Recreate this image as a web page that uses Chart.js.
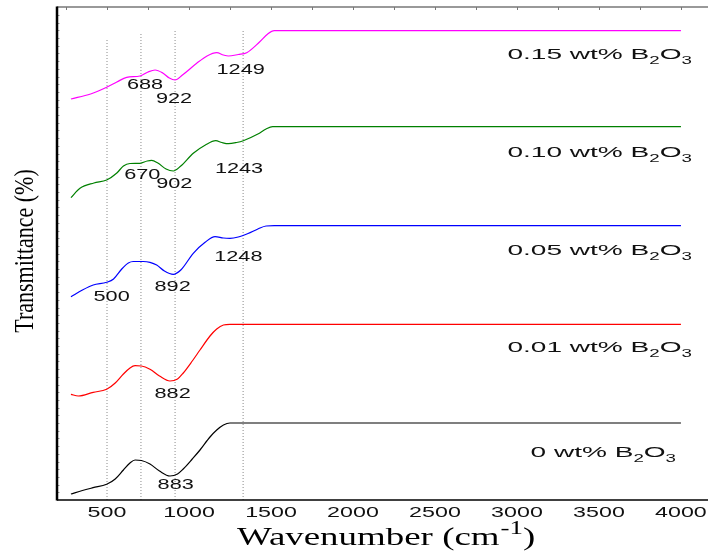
<!DOCTYPE html>
<html>
<head>
<meta charset="utf-8">
<script src="https://cdn.jsdelivr.net/npm/chart.js@4.4.1/dist/chart.umd.min.js"></script>
<style>
  html, body { margin: 0; padding: 0; background: #fff; }
</style>
</head>
<body>
<canvas id="myChart" width="708" height="552"></canvas>
<script>
// 스펙트럼 데이터 (wavenumber, 투과율 - 임의 단위, 세로로 쌓아서 표시)
var wave0 = [280, 350, 415, 498, 550, 600, 640, 671, 710, 762, 820, 884, 930, 965, 1020, 1067, 1128, 1169, 1210, 1250, 4000];
var trans0 = [6, 9.5, 12.3, 15.7, 21, 30, 37, 40, 39.5, 36, 29, 24, 26, 31, 41, 50, 63, 70, 75, 77, 77];

var wave001 = [280, 325, 416, 498, 550, 600, 640, 671, 710, 762, 820, 884, 930, 965, 1020, 1067, 1128, 1169, 1210, 1250, 4000];
var trans001 = [105.7, 104, 107.7, 110.7, 117, 126, 132, 134.3, 134, 130.7, 124, 119, 121, 127, 139, 150, 164, 171, 175, 175.7, 175.7];

var wave005 = [280, 350, 416, 498, 540, 590, 630, 660, 720, 762, 803, 850, 904, 950, 1026, 1100, 1159, 1210, 1250, 1300, 1360, 1420, 1470, 1520, 4000];
var trans005 = [203.3, 210, 215, 217.7, 221, 231, 237, 238.5, 238.5, 237.7, 235, 229, 225.7, 230, 246.7, 258, 263.3, 262, 261.7, 263, 266.5, 271, 274, 274.3, 274.3];

var wave010 = [280, 335, 420, 498, 560, 600, 640, 701, 745, 772, 810, 860, 904, 950, 1026, 1100, 1163, 1200, 1240, 1290, 1331, 1420, 1470, 1510, 4000];
var trans010 = [302.3, 311.7, 317, 320, 327, 334, 336.5, 336.7, 339, 339.7, 337, 331, 329, 334, 346.7, 355, 359.3, 357.5, 356.3, 357.5, 359.3, 366, 371, 373.3, 373.3];

var wave015 = [280, 400, 498, 560, 620, 701, 750, 793, 840, 880, 915, 960, 1047, 1110, 1169, 1210, 1240, 1300, 1352, 1430, 1480, 1520, 4000];
var trans015 = [401, 406, 412.7, 418, 422.7, 424, 428, 430, 427, 422, 420, 425, 436.7, 444, 447.3, 445, 444, 445.5, 447.3, 458, 466, 469.3, 469.3];

var seriesNames = ["0 wt%", "0.01 wt%", "0.05 wt%", "0.10 wt%", "0.15 wt%"];
var seriesColors = ["#000000", "#ff0000", "#0000ff", "#008000", "#ff00ff"];

// 점선 기준선
var refWave = [500, 707, 915, 1330];
var refTop = [462, 467, 469, 469];

// x축 눈금
var xTicks = [500, 1000, 1500, 2000, 2500, 3000, 3500, 4000];
var topTicks = [250, 500, 750, 1000, 1250, 1500, 1750, 2000, 2250, 2500, 2750, 3000, 3250, 3500, 3750, 4000];

// 피크 라벨 (텍스트, wavenumber, 세로 위치)
var peakText = ["688", "922", "1249", "670", "902", "1243", "1248", "500", "892", "882", "883"];
var peakWave = [732, 909, 1315, 715, 910, 1305, 1301, 528, 900, 900, 919];
var peakLevel = [415, 401, 430, 325, 316, 331, 242.7, 202.7, 212.7, 105.7, 15];

// 시리즈 라벨 위치 (오른쪽 끝 wavenumber, 기준선 높이)
var labelWave = [3970, 4067, 4067, 4067, 4067];
var labelLevel = [43, 148, 245, 343, 441];

function toPoints(xs, ys) {
  return xs.map(function (x, i) { return { x: x, y: ys[i] }; });
}

var waves = [wave0, wave001, wave005, wave010, wave015];
var trans = [trans0, trans001, trans005, trans010, trans015];

var datasets = [];
refWave.forEach(function (w, i) {
  datasets.push({
    data: [{ x: w, y: 0 }, { x: w, y: refTop[i] }],
    borderColor: "#8a8a8a",
    borderWidth: 1,
    borderDash: [1, 2],
    pointRadius: 0,
    order: 10
  });
});
waves.forEach(function (w, i) {
  datasets.push({
    label: seriesNames[i],
    data: toPoints(w, trans[i]),
    borderColor: seriesColors[i],
    borderWidth: 1.2,
    pointRadius: 0,
    cubicInterpolationMode: "monotone",
    order: 1
  });
});

// 가로로 늘어난 글자 그리기
function drawWide(c, text, x, y, font, sx, align) {
  c.save();
  c.font = font;
  var w = c.measureText(text).width * sx;
  var left = align === "center" ? x - w / 2 : (align === "right" ? x - w : x);
  c.translate(left, y);
  c.scale(sx, 1);
  c.textAlign = "left";
  c.fillText(text, 0, 0);
  c.restore();
  return w;
}

var decorations = {
  id: "decorations",
  afterDraw: function (chart) {
    var c = chart.ctx;
    var a = chart.chartArea;
    var xs = chart.scales.x;
    var ys = chart.scales.y;

    c.save();
    // 위쪽 테두리 + 안쪽 눈금
    c.strokeStyle = "#777";
    c.lineWidth = 1.5;
    c.beginPath();
    c.moveTo(a.left, a.top);
    c.lineTo(a.right, a.top);
    c.stroke();
    c.lineWidth = 1;
    topTicks.forEach(function (v) {
      var px = Math.round(xs.getPixelForValue(v)) + 0.5;
      c.beginPath();
      c.moveTo(px, a.top);
      c.lineTo(px, a.top + 3);
      c.stroke();
    });
    // 왼쪽 축 작은 눈금
    c.strokeStyle = "#999";
    for (var v = 7.7; v < 493; v += 7.7) {
      var py = Math.round(ys.getPixelForValue(v)) + 0.5;
      c.beginPath();
      c.moveTo(a.left, py);
      c.lineTo(a.left + 2.5, py);
      c.stroke();
    }
    // 아래 축
    c.strokeStyle = "#000";
    c.lineWidth = 1.5;
    c.beginPath();
    c.moveTo(a.left, a.bottom);
    c.lineTo(a.right, a.bottom);
    c.stroke();
    // 왼쪽 축
    c.lineWidth = 2.5;
    c.beginPath();
    c.moveTo(a.left, a.top - 0.5);
    c.lineTo(a.left, a.bottom + 0.5);
    c.stroke();

    // x 눈금 라벨
    c.fillStyle = "#111";
    c.textBaseline = "alphabetic";
    xTicks.forEach(function (v) {
      drawWide(c, String(v), xs.getPixelForValue(v), a.bottom + 17, "15px 'Liberation Sans', Arial, sans-serif", 1.55, "center");
    });

    // 피크 라벨
    c.fillStyle = "#111";
    c.textBaseline = "middle";
    peakText.forEach(function (t, i) {
      drawWide(c, t, xs.getPixelForValue(peakWave[i]), ys.getPixelForValue(peakLevel[i]), "14px 'Liberation Sans', Arial, sans-serif", 1.55, "center");
    });

    // 시리즈 라벨 (B2O3 아래첨자)
    c.textBaseline = "alphabetic";
    seriesNames.forEach(function (name, i) {
      var right = xs.getPixelForValue(labelWave[i]);
      var base = ys.getPixelForValue(labelLevel[i]);
      var big = "15px 'Liberation Sans', Arial, sans-serif";
      var small = "10px 'Liberation Sans', Arial, sans-serif";
      var sx = 1.87;
      var parts = [[name + " B", big, 0], ["2", small, 5], ["O", big, 0], ["3", small, 5]];
      var total = 0;
      parts.forEach(function (p) { c.font = p[1]; total += c.measureText(p[0]).width * sx; });
      var x = right - total;
      parts.forEach(function (p) {
        x += drawWide(c, p[0], x, base + p[2], p[1], sx, "left");
      });
    });

    // y축 제목
    c.save();
    c.translate(33, 251);
    c.rotate(-Math.PI / 2);
    c.scale(1, 1.2);
    c.font = "22px 'Liberation Serif', 'Times New Roman', serif";
    c.textAlign = "center";
    c.textBaseline = "alphabetic";
    c.fillStyle = "#000";
    c.fillText("Transmittance (%)", 0, 0);
    c.restore();

    // x축 제목
    c.fillStyle = "#000";
    var tx = 237, ty = 545;
    tx += drawWide(c, "Wavenumber (cm", tx, ty, "26px 'Liberation Serif', 'Times New Roman', serif", 1.42, "left");
    tx += drawWide(c, "-1", tx + 1, ty - 11, "19px 'Liberation Serif', 'Times New Roman', serif", 1.42, "left") + 1;
    drawWide(c, ")", tx, ty, "26px 'Liberation Serif', 'Times New Roman', serif", 1.42, "left");
    c.restore();
  }
};

var ctx = document.getElementById("myChart");
var chart = new Chart(ctx, {
  type: "line",
  data: { datasets: datasets },
  options: {
    responsive: false,
    animation: false,
    devicePixelRatio: 1,
    layout: { padding: { top: 7, right: 0, left: 0, bottom: 0 } },
    plugins: { legend: { display: false }, tooltip: { enabled: false } },
    scales: {
      x: {
        type: "linear",
        min: 195,
        max: 4165,
        grid: { display: false, drawTicks: false },
        border: { display: false },
        ticks: { display: false },
        afterFit: function (s) { s.height = 52; }
      },
      y: {
        min: 0,
        max: 493,
        grid: { display: false, drawTicks: false },
        border: { display: false },
        ticks: { display: false },
        afterFit: function (s) { s.width = 57; }
      }
    }
  },
  plugins: [decorations]
});
</script>
</body>
</html>
